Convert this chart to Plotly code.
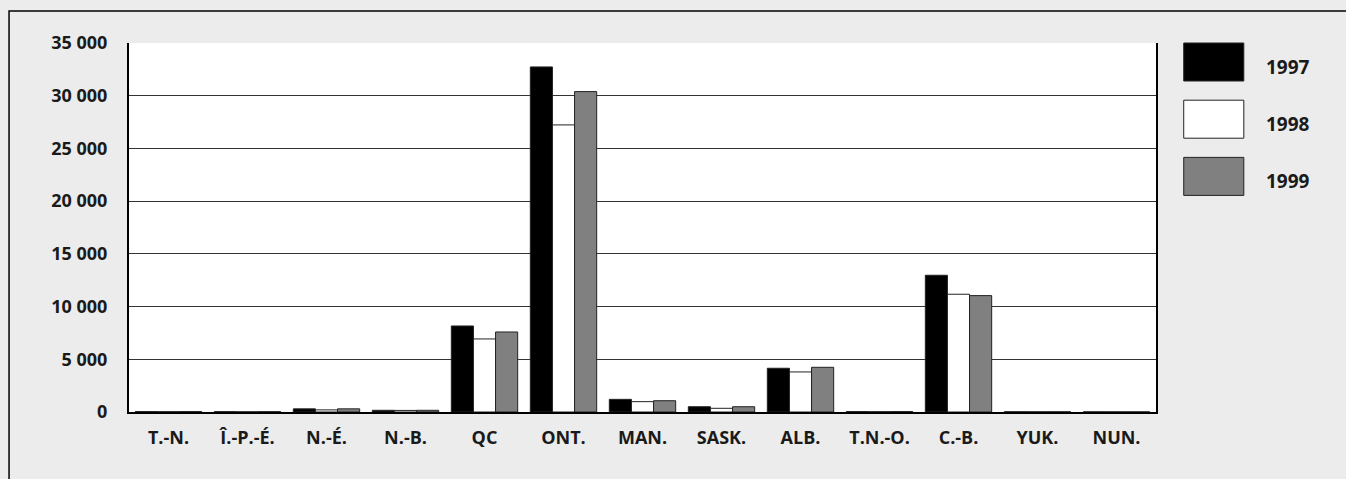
import plotly.graph_objects as go

provinces = ["T.-N.", "Î.-P.-É.", "N.-É.", "N.-B.", "QC", "ONT.", "MAN.",
             "SASK.", "ALB.", "T.N.-O.", "C.-B.", "YUK.", "NUN."]
years = ["1997", "1998", "1999"]
v1997 = [40, 30, 300, 160, 8160, 32730, 1200, 500, 4150, 40, 12970, 20, 10]
v1998 = [30, 20, 200, 150, 6930, 27230, 980, 350, 3800, 30, 11170, 20, 10]
v1999 = [40, 30, 300, 160, 7590, 30390, 1070, 500, 4240, 40, 11040, 20, 10]
colors = ["#000000", "#ffffff", "#808080"]
y_ticks = [0, 5000, 10000, 15000, 20000, 25000, 30000, 35000]

font_main = "Open Sans, Liberation Sans, sans-serif"

fig = go.Figure()
for name, vals, col in zip(years, [v1997, v1998, v1999], colors):
    fig.add_trace(go.Bar(
        x=provinces, y=vals, name=name,
        marker=dict(color=col, line=dict(color="#222222", width=1)),
        showlegend=False,
    ))

fig.update_layout(
    width=1346, height=479,
    barmode="group", bargap=0.16, bargroupgap=0,
    paper_bgcolor="#ececec", plot_bgcolor="#ffffff",
    margin=dict(l=129, r=190, t=43, b=67),
    separators=", ",
    font=dict(family=font_main, size=18, color="#1a1a1a"),
)

fig.update_xaxes(
    showline=True, linecolor="#000000", linewidth=2, mirror=False,
    showgrid=False, ticks="", tickfont=dict(size=18, weight="bold"),
    ticklabelstandoff=8,
)
fig.update_yaxes(
    range=[0, 35000], tickvals=y_ticks, tickformat=",d",
    showline=True, linecolor="#000000", linewidth=2, mirror=True,
    showgrid=True, gridcolor="#333333", gridwidth=1,
    zeroline=False, ticks="", tickfont=dict(size=18, weight="bold"),
    ticklabelstandoff=16,
)

# outer frame (runs off the right and bottom edges)
fig.add_shape(type="rect", xref="paper", yref="paper",
              x0=-0.1168, x1=1.5, y0=-0.5, y1=1.0867,
              line=dict(color="#000000", width=1.5), layer="below")

# hand-drawn legend to the right of the plot
for i, (name, col) in enumerate(zip(years, colors)):
    y_top = 1.0 - i * 0.155
    fig.add_shape(type="rect", xref="paper", yref="paper",
                  x0=1.027, x1=1.0855, y0=y_top - 0.103, y1=y_top,
                  fillcolor=col, line=dict(color="#222222", width=1))
    fig.add_annotation(xref="paper", yref="paper", x=1.105, y=y_top - 0.065,
                       text="<b>%s</b>" % name, showarrow=False, xanchor="left",
                       yanchor="middle", font=dict(size=19, color="#1a1a1a"))

fig.write_html("out.html", config={"displayModeBar": False},
               post_script="document.body.style.margin='0';")
